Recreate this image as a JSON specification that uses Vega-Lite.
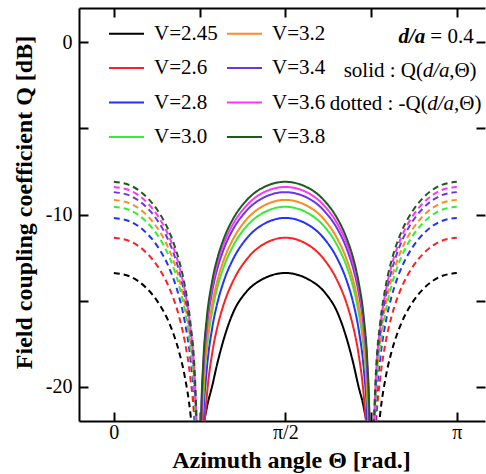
{
"$schema": "https://vega.github.io/schema/vega-lite/v6.json",
"width": 406, "height": 413,
"autosize": {"type": "none"},
"padding": {"left": 79, "top": 8, "right": 1, "bottom": 53},
"config": {
  "view": {"stroke": null},
  "axis": {"domainColor": "black", "tickColor": "black", "domainWidth": 2, "tickWidth": 2, "labelFont": "Liberation Serif", "titleFont": "Liberation Serif", "labelColor": "black", "titleColor": "black", "grid": false, "labelFontSize": 20, "titleFontSize": 24, "titleFontWeight": "bold"}
},
"layer": [
{
"data": {"values": [
{"v":"V=2.45","s":"solid","g":"C","t":0.79,"q":-28},
{"v":"V=2.45","s":"solid","g":"C","t":0.80,"q":-25.5},
{"v":"V=2.45","s":"solid","g":"C","t":0.82,"q":-22.6},
{"v":"V=2.45","s":"solid","g":"C","t":0.85,"q":-21.3},
{"v":"V=2.45","s":"solid","g":"C","t":0.90,"q":-20.0},
{"v":"V=2.45","s":"solid","g":"C","t":0.95,"q":-18.6},
{"v":"V=2.45","s":"solid","g":"C","t":1.00,"q":-17.4},
{"v":"V=2.45","s":"solid","g":"C","t":1.10,"q":-15.6},
{"v":"V=2.45","s":"solid","g":"C","t":1.20,"q":-14.6},
{"v":"V=2.45","s":"solid","g":"C","t":1.35,"q":-13.8},
{"v":"V=2.45","s":"solid","g":"C","t":1.5708,"q":-13.4},
{"v":"V=2.45","s":"solid","g":"C","t":1.7916,"q":-13.8},
{"v":"V=2.45","s":"solid","g":"C","t":1.9416,"q":-14.6},
{"v":"V=2.45","s":"solid","g":"C","t":2.0416,"q":-15.6},
{"v":"V=2.45","s":"solid","g":"C","t":2.1416,"q":-17.4},
{"v":"V=2.45","s":"solid","g":"C","t":2.1916,"q":-18.6},
{"v":"V=2.45","s":"solid","g":"C","t":2.2416,"q":-20.0},
{"v":"V=2.45","s":"solid","g":"C","t":2.2916,"q":-21.3},
{"v":"V=2.45","s":"solid","g":"C","t":2.3216,"q":-22.6},
{"v":"V=2.45","s":"solid","g":"C","t":2.3416,"q":-25.5},
{"v":"V=2.45","s":"solid","g":"C","t":2.3516,"q":-28},
{"v":"V=2.6","s":"solid","g":"C","t":0.79,"q":-32.7},
{"v":"V=2.6","s":"solid","g":"C","t":0.80,"q":-27.5},
{"v":"V=2.6","s":"solid","g":"C","t":0.82,"q":-23.5},
{"v":"V=2.6","s":"solid","g":"C","t":0.85,"q":-20.7},
{"v":"V=2.6","s":"solid","g":"C","t":0.90,"q":-18.1},
{"v":"V=2.6","s":"solid","g":"C","t":0.95,"q":-16.5},
{"v":"V=2.6","s":"solid","g":"C","t":1.00,"q":-15.35},
{"v":"V=2.6","s":"solid","g":"C","t":1.10,"q":-13.77},
{"v":"V=2.6","s":"solid","g":"C","t":1.20,"q":-12.74},
{"v":"V=2.6","s":"solid","g":"C","t":1.35,"q":-11.81},
{"v":"V=2.6","s":"solid","g":"C","t":1.5708,"q":-11.35},
{"v":"V=2.6","s":"solid","g":"C","t":1.7916,"q":-11.81},
{"v":"V=2.6","s":"solid","g":"C","t":1.9416,"q":-12.74},
{"v":"V=2.6","s":"solid","g":"C","t":2.0416,"q":-13.77},
{"v":"V=2.6","s":"solid","g":"C","t":2.1416,"q":-15.35},
{"v":"V=2.6","s":"solid","g":"C","t":2.1916,"q":-16.5},
{"v":"V=2.6","s":"solid","g":"C","t":2.2416,"q":-18.1},
{"v":"V=2.6","s":"solid","g":"C","t":2.2916,"q":-20.7},
{"v":"V=2.6","s":"solid","g":"C","t":2.3216,"q":-23.5},
{"v":"V=2.6","s":"solid","g":"C","t":2.3416,"q":-27.5},
{"v":"V=2.6","s":"solid","g":"C","t":2.3516,"q":-32.7},
{"v":"V=2.8","s":"solid","g":"C","t":0.79,"q":-30.6},
{"v":"V=2.8","s":"solid","g":"C","t":0.80,"q":-25.6},
{"v":"V=2.8","s":"solid","g":"C","t":0.82,"q":-21.8},
{"v":"V=2.8","s":"solid","g":"C","t":0.85,"q":-19.1},
{"v":"V=2.8","s":"solid","g":"C","t":0.90,"q":-16.64},
{"v":"V=2.8","s":"solid","g":"C","t":0.95,"q":-15.1},
{"v":"V=2.8","s":"solid","g":"C","t":1.00,"q":-14.01},
{"v":"V=2.8","s":"solid","g":"C","t":1.10,"q":-12.5},
{"v":"V=2.8","s":"solid","g":"C","t":1.20,"q":-11.52},
{"v":"V=2.8","s":"solid","g":"C","t":1.35,"q":-10.64},
{"v":"V=2.8","s":"solid","g":"C","t":1.5708,"q":-10.2},
{"v":"V=2.8","s":"solid","g":"C","t":1.7916,"q":-10.64},
{"v":"V=2.8","s":"solid","g":"C","t":1.9416,"q":-11.52},
{"v":"V=2.8","s":"solid","g":"C","t":2.0416,"q":-12.5},
{"v":"V=2.8","s":"solid","g":"C","t":2.1416,"q":-14.01},
{"v":"V=2.8","s":"solid","g":"C","t":2.1916,"q":-15.1},
{"v":"V=2.8","s":"solid","g":"C","t":2.2416,"q":-16.64},
{"v":"V=2.8","s":"solid","g":"C","t":2.2916,"q":-19.1},
{"v":"V=2.8","s":"solid","g":"C","t":2.3216,"q":-21.8},
{"v":"V=2.8","s":"solid","g":"C","t":2.3416,"q":-25.6},
{"v":"V=2.8","s":"solid","g":"C","t":2.3516,"q":-30.6},
{"v":"V=3.0","s":"solid","g":"C","t":0.79,"q":-28.9},
{"v":"V=3.0","s":"solid","g":"C","t":0.80,"q":-24.1},
{"v":"V=3.0","s":"solid","g":"C","t":0.82,"q":-20.6},
{"v":"V=3.0","s":"solid","g":"C","t":0.85,"q":-18.0},
{"v":"V=3.0","s":"solid","g":"C","t":0.90,"q":-15.67},
{"v":"V=3.0","s":"solid","g":"C","t":0.95,"q":-14.2},
{"v":"V=3.0","s":"solid","g":"C","t":1.00,"q":-13.17},
{"v":"V=3.0","s":"solid","g":"C","t":1.10,"q":-11.74},
{"v":"V=3.0","s":"solid","g":"C","t":1.20,"q":-10.8},
{"v":"V=3.0","s":"solid","g":"C","t":1.35,"q":-9.97},
{"v":"V=3.0","s":"solid","g":"C","t":1.5708,"q":-9.55},
{"v":"V=3.0","s":"solid","g":"C","t":1.7916,"q":-9.97},
{"v":"V=3.0","s":"solid","g":"C","t":1.9416,"q":-10.8},
{"v":"V=3.0","s":"solid","g":"C","t":2.0416,"q":-11.74},
{"v":"V=3.0","s":"solid","g":"C","t":2.1416,"q":-13.17},
{"v":"V=3.0","s":"solid","g":"C","t":2.1916,"q":-14.2},
{"v":"V=3.0","s":"solid","g":"C","t":2.2416,"q":-15.67},
{"v":"V=3.0","s":"solid","g":"C","t":2.2916,"q":-18.0},
{"v":"V=3.0","s":"solid","g":"C","t":2.3216,"q":-20.6},
{"v":"V=3.0","s":"solid","g":"C","t":2.3416,"q":-24.1},
{"v":"V=3.0","s":"solid","g":"C","t":2.3516,"q":-28.9},
{"v":"V=3.2","s":"solid","g":"C","t":0.79,"q":-28.5},
{"v":"V=3.2","s":"solid","g":"C","t":0.80,"q":-23.7},
{"v":"V=3.2","s":"solid","g":"C","t":0.82,"q":-20.2},
{"v":"V=3.2","s":"solid","g":"C","t":0.85,"q":-17.6},
{"v":"V=3.2","s":"solid","g":"C","t":0.90,"q":-15.27},
{"v":"V=3.2","s":"solid","g":"C","t":0.95,"q":-13.8},
{"v":"V=3.2","s":"solid","g":"C","t":1.00,"q":-12.77},
{"v":"V=3.2","s":"solid","g":"C","t":1.10,"q":-11.34},
{"v":"V=3.2","s":"solid","g":"C","t":1.20,"q":-10.4},
{"v":"V=3.2","s":"solid","g":"C","t":1.35,"q":-9.57},
{"v":"V=3.2","s":"solid","g":"C","t":1.5708,"q":-9.15},
{"v":"V=3.2","s":"solid","g":"C","t":1.7916,"q":-9.57},
{"v":"V=3.2","s":"solid","g":"C","t":1.9416,"q":-10.4},
{"v":"V=3.2","s":"solid","g":"C","t":2.0416,"q":-11.34},
{"v":"V=3.2","s":"solid","g":"C","t":2.1416,"q":-12.77},
{"v":"V=3.2","s":"solid","g":"C","t":2.1916,"q":-13.8},
{"v":"V=3.2","s":"solid","g":"C","t":2.2416,"q":-15.27},
{"v":"V=3.2","s":"solid","g":"C","t":2.2916,"q":-17.6},
{"v":"V=3.2","s":"solid","g":"C","t":2.3216,"q":-20.2},
{"v":"V=3.2","s":"solid","g":"C","t":2.3416,"q":-23.7},
{"v":"V=3.2","s":"solid","g":"C","t":2.3516,"q":-28.5},
{"v":"V=3.4","s":"solid","g":"C","t":0.79,"q":-27.0},
{"v":"V=3.4","s":"solid","g":"C","t":0.80,"q":-22.5},
{"v":"V=3.4","s":"solid","g":"C","t":0.82,"q":-19.1},
{"v":"V=3.4","s":"solid","g":"C","t":0.85,"q":-16.7},
{"v":"V=3.4","s":"solid","g":"C","t":0.90,"q":-14.5},
{"v":"V=3.4","s":"solid","g":"C","t":0.95,"q":-13.11},
{"v":"V=3.4","s":"solid","g":"C","t":1.00,"q":-12.13},
{"v":"V=3.4","s":"solid","g":"C","t":1.10,"q":-10.77},
{"v":"V=3.4","s":"solid","g":"C","t":1.20,"q":-9.89},
{"v":"V=3.4","s":"solid","g":"C","t":1.35,"q":-9.09},
{"v":"V=3.4","s":"solid","g":"C","t":1.5708,"q":-8.7},
{"v":"V=3.4","s":"solid","g":"C","t":1.7916,"q":-9.09},
{"v":"V=3.4","s":"solid","g":"C","t":1.9416,"q":-9.89},
{"v":"V=3.4","s":"solid","g":"C","t":2.0416,"q":-10.77},
{"v":"V=3.4","s":"solid","g":"C","t":2.1416,"q":-12.13},
{"v":"V=3.4","s":"solid","g":"C","t":2.1916,"q":-13.11},
{"v":"V=3.4","s":"solid","g":"C","t":2.2416,"q":-14.5},
{"v":"V=3.4","s":"solid","g":"C","t":2.2916,"q":-16.7},
{"v":"V=3.4","s":"solid","g":"C","t":2.3216,"q":-19.1},
{"v":"V=3.4","s":"solid","g":"C","t":2.3416,"q":-22.5},
{"v":"V=3.4","s":"solid","g":"C","t":2.3516,"q":-27.0},
{"v":"V=3.6","s":"solid","g":"C","t":0.79,"q":-26.7},
{"v":"V=3.6","s":"solid","g":"C","t":0.80,"q":-22.2},
{"v":"V=3.6","s":"solid","g":"C","t":0.82,"q":-18.8},
{"v":"V=3.6","s":"solid","g":"C","t":0.85,"q":-16.4},
{"v":"V=3.6","s":"solid","g":"C","t":0.90,"q":-14.2},
{"v":"V=3.6","s":"solid","g":"C","t":0.95,"q":-12.81},
{"v":"V=3.6","s":"solid","g":"C","t":1.00,"q":-11.83},
{"v":"V=3.6","s":"solid","g":"C","t":1.10,"q":-10.47},
{"v":"V=3.6","s":"solid","g":"C","t":1.20,"q":-9.59},
{"v":"V=3.6","s":"solid","g":"C","t":1.35,"q":-8.79},
{"v":"V=3.6","s":"solid","g":"C","t":1.5708,"q":-8.4},
{"v":"V=3.6","s":"solid","g":"C","t":1.7916,"q":-8.79},
{"v":"V=3.6","s":"solid","g":"C","t":1.9416,"q":-9.59},
{"v":"V=3.6","s":"solid","g":"C","t":2.0416,"q":-10.47},
{"v":"V=3.6","s":"solid","g":"C","t":2.1416,"q":-11.83},
{"v":"V=3.6","s":"solid","g":"C","t":2.1916,"q":-12.81},
{"v":"V=3.6","s":"solid","g":"C","t":2.2416,"q":-14.2},
{"v":"V=3.6","s":"solid","g":"C","t":2.2916,"q":-16.4},
{"v":"V=3.6","s":"solid","g":"C","t":2.3216,"q":-18.8},
{"v":"V=3.6","s":"solid","g":"C","t":2.3416,"q":-22.2},
{"v":"V=3.6","s":"solid","g":"C","t":2.3516,"q":-26.7},
{"v":"V=3.8","s":"solid","g":"C","t":0.79,"q":-26.4},
{"v":"V=3.8","s":"solid","g":"C","t":0.80,"q":-21.9},
{"v":"V=3.8","s":"solid","g":"C","t":0.82,"q":-18.5},
{"v":"V=3.8","s":"solid","g":"C","t":0.85,"q":-16.1},
{"v":"V=3.8","s":"solid","g":"C","t":0.90,"q":-13.9},
{"v":"V=3.8","s":"solid","g":"C","t":0.95,"q":-12.51},
{"v":"V=3.8","s":"solid","g":"C","t":1.00,"q":-11.53},
{"v":"V=3.8","s":"solid","g":"C","t":1.10,"q":-10.17},
{"v":"V=3.8","s":"solid","g":"C","t":1.20,"q":-9.29},
{"v":"V=3.8","s":"solid","g":"C","t":1.35,"q":-8.49},
{"v":"V=3.8","s":"solid","g":"C","t":1.5708,"q":-8.1},
{"v":"V=3.8","s":"solid","g":"C","t":1.7916,"q":-8.49},
{"v":"V=3.8","s":"solid","g":"C","t":1.9416,"q":-9.29},
{"v":"V=3.8","s":"solid","g":"C","t":2.0416,"q":-10.17},
{"v":"V=3.8","s":"solid","g":"C","t":2.1416,"q":-11.53},
{"v":"V=3.8","s":"solid","g":"C","t":2.1916,"q":-12.51},
{"v":"V=3.8","s":"solid","g":"C","t":2.2416,"q":-13.9},
{"v":"V=3.8","s":"solid","g":"C","t":2.2916,"q":-16.1},
{"v":"V=3.8","s":"solid","g":"C","t":2.3216,"q":-18.5},
{"v":"V=3.8","s":"solid","g":"C","t":2.3416,"q":-21.9},
{"v":"V=3.8","s":"solid","g":"C","t":2.3516,"q":-26.4},

{"v":"V=2.45","s":"dotted","g":"L","t":0,"q":-13.4},
{"v":"V=2.45","s":"dotted","g":"L","t":0.15,"q":-13.61},
{"v":"V=2.45","s":"dotted","g":"L","t":0.3,"q":-14.28},
{"v":"V=2.45","s":"dotted","g":"L","t":0.4,"q":-15.05},
{"v":"V=2.45","s":"dotted","g":"L","t":0.5,"q":-16.2},
{"v":"V=2.45","s":"dotted","g":"L","t":0.55,"q":-17.0},
{"v":"V=2.45","s":"dotted","g":"L","t":0.6,"q":-18.03},
{"v":"V=2.45","s":"dotted","g":"L","t":0.65,"q":-19.42},
{"v":"V=2.45","s":"dotted","g":"L","t":0.7,"q":-21.49},
{"v":"V=2.45","s":"dotted","g":"L","t":0.74,"q":-24.34},
{"v":"V=2.45","s":"dotted","g":"L","t":0.77,"q":-29.3},
{"v":"V=2.45","s":"dotted","g":"R","t":3.1416,"q":-13.4},
{"v":"V=2.45","s":"dotted","g":"R","t":2.9916,"q":-13.61},
{"v":"V=2.45","s":"dotted","g":"R","t":2.8416,"q":-14.28},
{"v":"V=2.45","s":"dotted","g":"R","t":2.7416,"q":-15.05},
{"v":"V=2.45","s":"dotted","g":"R","t":2.6416,"q":-16.2},
{"v":"V=2.45","s":"dotted","g":"R","t":2.5916,"q":-17.0},
{"v":"V=2.45","s":"dotted","g":"R","t":2.5416,"q":-18.03},
{"v":"V=2.45","s":"dotted","g":"R","t":2.4916,"q":-19.42},
{"v":"V=2.45","s":"dotted","g":"R","t":2.4416,"q":-21.49},
{"v":"V=2.45","s":"dotted","g":"R","t":2.4016,"q":-24.34},
{"v":"V=2.45","s":"dotted","g":"R","t":2.3716,"q":-29.3},
{"v":"V=2.6","s":"dotted","g":"L","t":0,"q":-11.35},
{"v":"V=2.6","s":"dotted","g":"L","t":0.15,"q":-11.56},
{"v":"V=2.6","s":"dotted","g":"L","t":0.3,"q":-12.23},
{"v":"V=2.6","s":"dotted","g":"L","t":0.4,"q":-13.0},
{"v":"V=2.6","s":"dotted","g":"L","t":0.5,"q":-14.15},
{"v":"V=2.6","s":"dotted","g":"L","t":0.55,"q":-14.95},
{"v":"V=2.6","s":"dotted","g":"L","t":0.6,"q":-15.98},
{"v":"V=2.6","s":"dotted","g":"L","t":0.65,"q":-17.37},
{"v":"V=2.6","s":"dotted","g":"L","t":0.7,"q":-19.44},
{"v":"V=2.6","s":"dotted","g":"L","t":0.74,"q":-22.29},
{"v":"V=2.6","s":"dotted","g":"L","t":0.77,"q":-27.25},
{"v":"V=2.6","s":"dotted","g":"R","t":3.1416,"q":-11.35},
{"v":"V=2.6","s":"dotted","g":"R","t":2.9916,"q":-11.56},
{"v":"V=2.6","s":"dotted","g":"R","t":2.8416,"q":-12.23},
{"v":"V=2.6","s":"dotted","g":"R","t":2.7416,"q":-13.0},
{"v":"V=2.6","s":"dotted","g":"R","t":2.6416,"q":-14.15},
{"v":"V=2.6","s":"dotted","g":"R","t":2.5916,"q":-14.95},
{"v":"V=2.6","s":"dotted","g":"R","t":2.5416,"q":-15.98},
{"v":"V=2.6","s":"dotted","g":"R","t":2.4916,"q":-17.37},
{"v":"V=2.6","s":"dotted","g":"R","t":2.4416,"q":-19.44},
{"v":"V=2.6","s":"dotted","g":"R","t":2.4016,"q":-22.29},
{"v":"V=2.6","s":"dotted","g":"R","t":2.3716,"q":-27.25},
{"v":"V=2.8","s":"dotted","g":"L","t":0,"q":-10.2},
{"v":"V=2.8","s":"dotted","g":"L","t":0.15,"q":-10.41},
{"v":"V=2.8","s":"dotted","g":"L","t":0.3,"q":-11.08},
{"v":"V=2.8","s":"dotted","g":"L","t":0.4,"q":-11.85},
{"v":"V=2.8","s":"dotted","g":"L","t":0.5,"q":-13.0},
{"v":"V=2.8","s":"dotted","g":"L","t":0.55,"q":-13.8},
{"v":"V=2.8","s":"dotted","g":"L","t":0.6,"q":-14.83},
{"v":"V=2.8","s":"dotted","g":"L","t":0.65,"q":-16.22},
{"v":"V=2.8","s":"dotted","g":"L","t":0.7,"q":-18.29},
{"v":"V=2.8","s":"dotted","g":"L","t":0.74,"q":-21.14},
{"v":"V=2.8","s":"dotted","g":"L","t":0.77,"q":-26.1},
{"v":"V=2.8","s":"dotted","g":"R","t":3.1416,"q":-10.2},
{"v":"V=2.8","s":"dotted","g":"R","t":2.9916,"q":-10.41},
{"v":"V=2.8","s":"dotted","g":"R","t":2.8416,"q":-11.08},
{"v":"V=2.8","s":"dotted","g":"R","t":2.7416,"q":-11.85},
{"v":"V=2.8","s":"dotted","g":"R","t":2.6416,"q":-13.0},
{"v":"V=2.8","s":"dotted","g":"R","t":2.5916,"q":-13.8},
{"v":"V=2.8","s":"dotted","g":"R","t":2.5416,"q":-14.83},
{"v":"V=2.8","s":"dotted","g":"R","t":2.4916,"q":-16.22},
{"v":"V=2.8","s":"dotted","g":"R","t":2.4416,"q":-18.29},
{"v":"V=2.8","s":"dotted","g":"R","t":2.4016,"q":-21.14},
{"v":"V=2.8","s":"dotted","g":"R","t":2.3716,"q":-26.1},
{"v":"V=3.0","s":"dotted","g":"L","t":0,"q":-9.55},
{"v":"V=3.0","s":"dotted","g":"L","t":0.15,"q":-9.76},
{"v":"V=3.0","s":"dotted","g":"L","t":0.3,"q":-10.43},
{"v":"V=3.0","s":"dotted","g":"L","t":0.4,"q":-11.2},
{"v":"V=3.0","s":"dotted","g":"L","t":0.5,"q":-12.35},
{"v":"V=3.0","s":"dotted","g":"L","t":0.55,"q":-13.15},
{"v":"V=3.0","s":"dotted","g":"L","t":0.6,"q":-14.18},
{"v":"V=3.0","s":"dotted","g":"L","t":0.65,"q":-15.57},
{"v":"V=3.0","s":"dotted","g":"L","t":0.7,"q":-17.64},
{"v":"V=3.0","s":"dotted","g":"L","t":0.74,"q":-20.49},
{"v":"V=3.0","s":"dotted","g":"L","t":0.77,"q":-25.45},
{"v":"V=3.0","s":"dotted","g":"R","t":3.1416,"q":-9.55},
{"v":"V=3.0","s":"dotted","g":"R","t":2.9916,"q":-9.76},
{"v":"V=3.0","s":"dotted","g":"R","t":2.8416,"q":-10.43},
{"v":"V=3.0","s":"dotted","g":"R","t":2.7416,"q":-11.2},
{"v":"V=3.0","s":"dotted","g":"R","t":2.6416,"q":-12.35},
{"v":"V=3.0","s":"dotted","g":"R","t":2.5916,"q":-13.15},
{"v":"V=3.0","s":"dotted","g":"R","t":2.5416,"q":-14.18},
{"v":"V=3.0","s":"dotted","g":"R","t":2.4916,"q":-15.57},
{"v":"V=3.0","s":"dotted","g":"R","t":2.4416,"q":-17.64},
{"v":"V=3.0","s":"dotted","g":"R","t":2.4016,"q":-20.49},
{"v":"V=3.0","s":"dotted","g":"R","t":2.3716,"q":-25.45},
{"v":"V=3.2","s":"dotted","g":"L","t":0,"q":-9.15},
{"v":"V=3.2","s":"dotted","g":"L","t":0.15,"q":-9.36},
{"v":"V=3.2","s":"dotted","g":"L","t":0.3,"q":-10.03},
{"v":"V=3.2","s":"dotted","g":"L","t":0.4,"q":-10.8},
{"v":"V=3.2","s":"dotted","g":"L","t":0.5,"q":-11.95},
{"v":"V=3.2","s":"dotted","g":"L","t":0.55,"q":-12.75},
{"v":"V=3.2","s":"dotted","g":"L","t":0.6,"q":-13.78},
{"v":"V=3.2","s":"dotted","g":"L","t":0.65,"q":-15.17},
{"v":"V=3.2","s":"dotted","g":"L","t":0.7,"q":-17.24},
{"v":"V=3.2","s":"dotted","g":"L","t":0.74,"q":-20.09},
{"v":"V=3.2","s":"dotted","g":"L","t":0.77,"q":-25.05},
{"v":"V=3.2","s":"dotted","g":"R","t":3.1416,"q":-9.15},
{"v":"V=3.2","s":"dotted","g":"R","t":2.9916,"q":-9.36},
{"v":"V=3.2","s":"dotted","g":"R","t":2.8416,"q":-10.03},
{"v":"V=3.2","s":"dotted","g":"R","t":2.7416,"q":-10.8},
{"v":"V=3.2","s":"dotted","g":"R","t":2.6416,"q":-11.95},
{"v":"V=3.2","s":"dotted","g":"R","t":2.5916,"q":-12.75},
{"v":"V=3.2","s":"dotted","g":"R","t":2.5416,"q":-13.78},
{"v":"V=3.2","s":"dotted","g":"R","t":2.4916,"q":-15.17},
{"v":"V=3.2","s":"dotted","g":"R","t":2.4416,"q":-17.24},
{"v":"V=3.2","s":"dotted","g":"R","t":2.4016,"q":-20.09},
{"v":"V=3.2","s":"dotted","g":"R","t":2.3716,"q":-25.05},
{"v":"V=3.4","s":"dotted","g":"L","t":0,"q":-8.7},
{"v":"V=3.4","s":"dotted","g":"L","t":0.15,"q":-8.91},
{"v":"V=3.4","s":"dotted","g":"L","t":0.3,"q":-9.58},
{"v":"V=3.4","s":"dotted","g":"L","t":0.4,"q":-10.35},
{"v":"V=3.4","s":"dotted","g":"L","t":0.5,"q":-11.5},
{"v":"V=3.4","s":"dotted","g":"L","t":0.55,"q":-12.3},
{"v":"V=3.4","s":"dotted","g":"L","t":0.6,"q":-13.33},
{"v":"V=3.4","s":"dotted","g":"L","t":0.65,"q":-14.72},
{"v":"V=3.4","s":"dotted","g":"L","t":0.7,"q":-16.79},
{"v":"V=3.4","s":"dotted","g":"L","t":0.74,"q":-19.64},
{"v":"V=3.4","s":"dotted","g":"L","t":0.77,"q":-24.6},
{"v":"V=3.4","s":"dotted","g":"R","t":3.1416,"q":-8.7},
{"v":"V=3.4","s":"dotted","g":"R","t":2.9916,"q":-8.91},
{"v":"V=3.4","s":"dotted","g":"R","t":2.8416,"q":-9.58},
{"v":"V=3.4","s":"dotted","g":"R","t":2.7416,"q":-10.35},
{"v":"V=3.4","s":"dotted","g":"R","t":2.6416,"q":-11.5},
{"v":"V=3.4","s":"dotted","g":"R","t":2.5916,"q":-12.3},
{"v":"V=3.4","s":"dotted","g":"R","t":2.5416,"q":-13.33},
{"v":"V=3.4","s":"dotted","g":"R","t":2.4916,"q":-14.72},
{"v":"V=3.4","s":"dotted","g":"R","t":2.4416,"q":-16.79},
{"v":"V=3.4","s":"dotted","g":"R","t":2.4016,"q":-19.64},
{"v":"V=3.4","s":"dotted","g":"R","t":2.3716,"q":-24.6},
{"v":"V=3.6","s":"dotted","g":"L","t":0,"q":-8.4},
{"v":"V=3.6","s":"dotted","g":"L","t":0.15,"q":-8.61},
{"v":"V=3.6","s":"dotted","g":"L","t":0.3,"q":-9.28},
{"v":"V=3.6","s":"dotted","g":"L","t":0.4,"q":-10.05},
{"v":"V=3.6","s":"dotted","g":"L","t":0.5,"q":-11.2},
{"v":"V=3.6","s":"dotted","g":"L","t":0.55,"q":-12.0},
{"v":"V=3.6","s":"dotted","g":"L","t":0.6,"q":-13.03},
{"v":"V=3.6","s":"dotted","g":"L","t":0.65,"q":-14.42},
{"v":"V=3.6","s":"dotted","g":"L","t":0.7,"q":-16.49},
{"v":"V=3.6","s":"dotted","g":"L","t":0.74,"q":-19.34},
{"v":"V=3.6","s":"dotted","g":"L","t":0.77,"q":-24.3},
{"v":"V=3.6","s":"dotted","g":"R","t":3.1416,"q":-8.4},
{"v":"V=3.6","s":"dotted","g":"R","t":2.9916,"q":-8.61},
{"v":"V=3.6","s":"dotted","g":"R","t":2.8416,"q":-9.28},
{"v":"V=3.6","s":"dotted","g":"R","t":2.7416,"q":-10.05},
{"v":"V=3.6","s":"dotted","g":"R","t":2.6416,"q":-11.2},
{"v":"V=3.6","s":"dotted","g":"R","t":2.5916,"q":-12.0},
{"v":"V=3.6","s":"dotted","g":"R","t":2.5416,"q":-13.03},
{"v":"V=3.6","s":"dotted","g":"R","t":2.4916,"q":-14.42},
{"v":"V=3.6","s":"dotted","g":"R","t":2.4416,"q":-16.49},
{"v":"V=3.6","s":"dotted","g":"R","t":2.4016,"q":-19.34},
{"v":"V=3.6","s":"dotted","g":"R","t":2.3716,"q":-24.3},
{"v":"V=3.8","s":"dotted","g":"L","t":0,"q":-8.1},
{"v":"V=3.8","s":"dotted","g":"L","t":0.15,"q":-8.31},
{"v":"V=3.8","s":"dotted","g":"L","t":0.3,"q":-8.98},
{"v":"V=3.8","s":"dotted","g":"L","t":0.4,"q":-9.75},
{"v":"V=3.8","s":"dotted","g":"L","t":0.5,"q":-10.9},
{"v":"V=3.8","s":"dotted","g":"L","t":0.55,"q":-11.7},
{"v":"V=3.8","s":"dotted","g":"L","t":0.6,"q":-12.73},
{"v":"V=3.8","s":"dotted","g":"L","t":0.65,"q":-14.12},
{"v":"V=3.8","s":"dotted","g":"L","t":0.7,"q":-16.19},
{"v":"V=3.8","s":"dotted","g":"L","t":0.74,"q":-19.04},
{"v":"V=3.8","s":"dotted","g":"L","t":0.77,"q":-24.0},
{"v":"V=3.8","s":"dotted","g":"R","t":3.1416,"q":-8.1},
{"v":"V=3.8","s":"dotted","g":"R","t":2.9916,"q":-8.31},
{"v":"V=3.8","s":"dotted","g":"R","t":2.8416,"q":-8.98},
{"v":"V=3.8","s":"dotted","g":"R","t":2.7416,"q":-9.75},
{"v":"V=3.8","s":"dotted","g":"R","t":2.6416,"q":-10.9},
{"v":"V=3.8","s":"dotted","g":"R","t":2.5916,"q":-11.7},
{"v":"V=3.8","s":"dotted","g":"R","t":2.5416,"q":-12.73},
{"v":"V=3.8","s":"dotted","g":"R","t":2.4916,"q":-14.12},
{"v":"V=3.8","s":"dotted","g":"R","t":2.4416,"q":-16.19},
{"v":"V=3.8","s":"dotted","g":"R","t":2.4016,"q":-19.04},
{"v":"V=3.8","s":"dotted","g":"R","t":2.3716,"q":-24.0}
]},
"mark": {"type": "line", "clip": true, "strokeWidth": 2, "interpolate": "monotone"},
"encoding": {
  "x": {"field": "t", "type": "quantitative", "scale": {"domain": [-0.319, 3.40], "nice": false, "zero": false},
        "axis": {"orient": "bottom", "values": [0, 0.7854, 1.5708, 2.3562, 3.1416], "tickSize": -9, "labelPadding": 10,
                 "labelExpr": "abs(datum.value) < 0.01 ? '0' : (abs(datum.value - 1.5708) < 0.01 ? 'π/2' : (abs(datum.value - 3.1416) < 0.01 ? 'π' : ''))",
                 "title": "Azimuth angle Θ [rad.]", "titleX": 212, "titleY": 46, "titleBaseline": "alphabetic", "labelFlush": false}},
  "y": {"field": "q", "type": "quantitative", "scale": {"domain": [-22, 2], "nice": false, "zero": false},
        "axis": {"orient": "left", "values": [-20, -15, -10, -5, 0], "tickSize": -9, "labelPadding": 16,
                 "labelExpr": "datum.value == 0 ? '0' : (datum.value % 10 == 0 ? '-' + abs(datum.value) : '')",
                 "title": "Field coupling coefficient Q [dB]", "titleX": -43, "titleY": 194, "titleBaseline": "bottom"}},
  "color": {"field": "v", "type": "nominal",
            "scale": {"domain": ["V=2.45", "V=2.6", "V=2.8", "V=3.0", "V=3.2", "V=3.4", "V=3.6", "V=3.8"],
                      "range": ["#000000", "#ff2020", "#2233ff", "#33ee33", "#ff8a1e", "#6a35e8", "#ff33ff", "#1a5c1a"]},
            "legend": {"orient": "none", "legendX": 29, "legendY": 7, "columns": 2, "columnPadding": 5, "rowPadding": 5.5,
                       "title": null, "padding": 0, "symbolType": "stroke", "symbolSize": 1225, "symbolStrokeWidth": 2,
                       "labelFont": "Liberation Serif", "labelFontSize": 21, "labelColor": "black", "labelOffset": 9}},
  "strokeDash": {"field": "s", "type": "nominal", "scale": {"domain": ["solid", "dotted"], "range": [[1, 0], [6, 4]]}, "legend": null},
  "detail": {"field": "g"}
}
},
{
"data": {"values": [
  {"x": 2.899, "y": 0.29, "txt": "= 0.4"},
  {"x": 2.105, "y": -1.69, "txt": "solid : Q("},
  {"x": 3.072, "y": -1.69, "txt": ",Θ)"},
  {"x": 1.978, "y": -3.55, "txt": "dotted : -Q("},
  {"x": 3.116, "y": -3.55, "txt": ",Θ)"}
]},
"mark": {"type": "text", "font": "Liberation Serif", "fontSize": 21, "align": "left", "baseline": "middle", "color": "black"},
"encoding": {
  "x": {"field": "x", "type": "quantitative", "scale": {"domain": [-0.319, 3.40], "nice": false, "zero": false},
        "axis": {"orient": "top", "values": [0, 0.7854, 1.5708, 2.3562, 3.1416], "tickSize": -9, "labels": false, "title": null}},
  "y": {"field": "y", "type": "quantitative", "scale": {"domain": [-22, 2], "nice": false, "zero": false},
        "axis": {"orient": "right", "values": [-20, -15, -10, -5, 0], "tickSize": -9, "labels": false, "title": null, "domain": false}},
  "text": {"field": "txt"}
}
},
{
"data": {"values": [
  {"x": 2.829, "y": -1.69, "txt": "d/a"},
  {"x": 2.871, "y": -3.55, "txt": "d/a"}
]},
"mark": {"type": "text", "font": "Liberation Serif", "fontSize": 21, "fontStyle": "italic", "align": "left", "baseline": "middle", "color": "black"},
"encoding": {
  "x": {"field": "x", "type": "quantitative", "scale": {"domain": [-0.319, 3.40], "nice": false, "zero": false}, "axis": null},
  "y": {"field": "y", "type": "quantitative", "scale": {"domain": [-22, 2], "nice": false, "zero": false}, "axis": null},
  "text": {"field": "txt"}
}
},
{
"data": {"values": [
  {"x": 2.607, "y": 0.29, "txt": "d/a"}
]},
"mark": {"type": "text", "font": "Liberation Serif", "fontSize": 21, "fontStyle": "italic", "fontWeight": "bold", "align": "left", "baseline": "middle", "color": "black"},
"encoding": {
  "x": {"field": "x", "type": "quantitative", "scale": {"domain": [-0.319, 3.40], "nice": false, "zero": false}, "axis": null},
  "y": {"field": "y", "type": "quantitative", "scale": {"domain": [-22, 2], "nice": false, "zero": false}, "axis": null},
  "text": {"field": "txt"}
}
}
],
"resolve": {"scale": {"x": "independent", "y": "independent"}}
}
